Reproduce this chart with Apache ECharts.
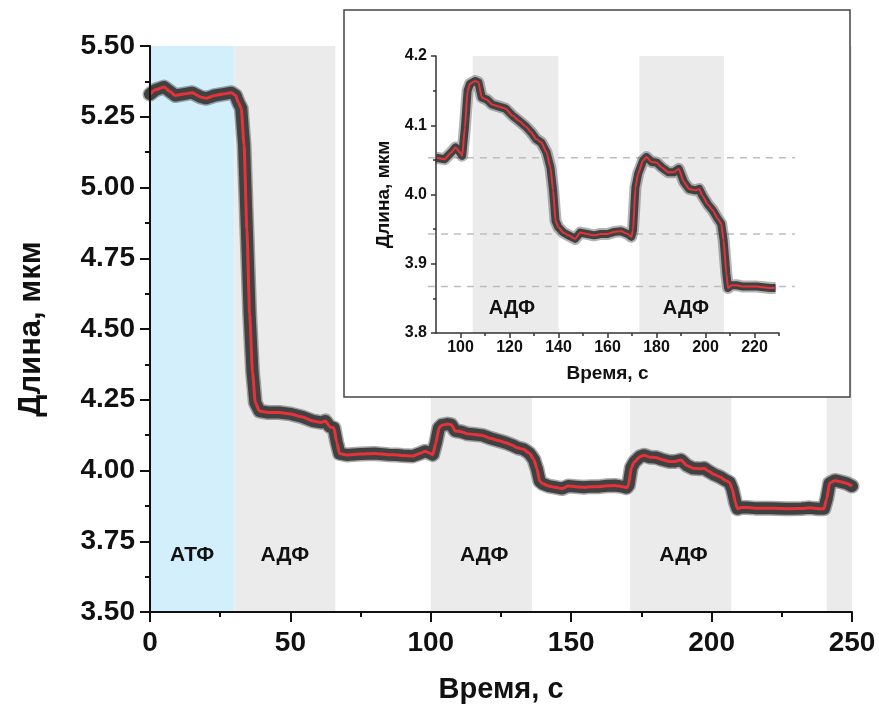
<!DOCTYPE html>
<html>
<head>
<meta charset="utf-8">
<script src="https://cdn.jsdelivr.net/npm/echarts@6/dist/echarts.min.js"></script>
<style>
  html, body { margin: 0; padding: 0; background: #fff; }
  #chart { width: 879px; height: 710px; }
</style>
</head>
<body>
<div id="chart"></div>
<script>
// Filament length over time, µm vs s: start of the record (ATP, then first ADP step)
const headTime = [0, 2, 5, 7, 9, 12, 15, 18, 20, 23, 26, 29, 30.5, 31.5, 32.5, 33.5, 34.5, 35.5, 36.5, 37.5,
  39, 42, 46, 50, 54, 58, 61, 62.5, 64, 65.5, 66.5, 67.5, 70, 75, 80, 85, 88];
const headLen = [5.33, 5.345, 5.355, 5.34, 5.325, 5.33, 5.335, 5.32, 5.315, 5.325, 5.33, 5.335, 5.325, 5.30, 5.28, 5.15, 4.85, 4.55, 4.35, 4.24,
  4.21, 4.205, 4.205, 4.20, 4.19, 4.175, 4.17, 4.175, 4.155, 4.15, 4.10, 4.06, 4.055, 4.058, 4.06, 4.056, 4.055];

// Middle of the record, 90–230 s (also shown enlarged in the inset)
const insetTime = [90, 93.5, 96.3, 98, 99.7, 100.7, 101.8, 102.9, 103.9, 106, 107.3, 108.7, 110.8, 112.9, 115.7,
  118.4, 121.2, 124, 126.7, 128.8, 130.9, 133, 135.1, 136.7, 137.8, 138.8, 139.9, 142, 144.1, 146.8,
  148.9, 151.7, 154.5, 157.2, 160, 162.8, 165.5, 168.3, 169.7, 170.4, 171.4, 172.5, 174.5, 175.9, 178,
  180.1, 182.2, 184.9, 187, 189.1, 191.2, 193.3, 196, 197.4, 198.8, 200.9, 203, 205, 206.4, 207.4,
  208.5, 209.2, 210.6, 212.6, 215.4, 218.2, 221, 223.7, 226.5, 228.6];
const insetLen = [4.053, 4.051, 4.061, 4.068, 4.061, 4.056, 4.097, 4.150, 4.160, 4.164, 4.162, 4.140, 4.137, 4.130, 4.127,
  4.124, 4.114, 4.106, 4.098, 4.090, 4.080, 4.075, 4.061, 4.039, 4.006, 3.962, 3.953, 3.945, 3.941, 3.936,
  3.945, 3.943, 3.941, 3.943, 3.943, 3.946, 3.947, 3.943, 3.939, 3.948, 4.010, 4.030, 4.049, 4.054, 4.047,
  4.046, 4.039, 4.032, 4.032, 4.037, 4.018, 4.008, 4.006, 4.008, 3.998, 3.986, 3.977, 3.965, 3.958, 3.934,
  3.886, 3.865, 3.869, 3.869, 3.867, 3.867, 3.867, 3.866, 3.865, 3.865];

// End of the record
const tailTime = [232, 235, 238, 240, 241, 242, 244, 246, 248, 250];
const tailLen = [3.866, 3.868, 3.865, 3.865, 3.90, 3.955, 3.965, 3.96, 3.955, 3.945];

// Solution periods (s)
const atpBands = [[0, 30]];
const adpBands = [[30, 66], [100, 136], [171, 207], [241, 250]];
const insetAdpBands = [[105, 140], [173, 207.5]];

// Period labels
const bandLabelTime = [15, 48, 119, 190];
const bandLabelText = ['АТФ', 'АДФ', 'АДФ', 'АДФ'];
const bandLabelLen = 3.70;
const insetLabelTime = [121, 192];
const insetLabelText = ['АДФ', 'АДФ'];
const insetLabelLen = 3.835;

// Plateau levels marked in the inset, and the time span of their dashed guides
const insetLevels = [4.053, 3.943, 3.867];
const levelSpan = [86.7, 236.5];

// Axis ticks for the inset time axis
const insetTimeTicks = [100, 120, 140, 160, 180, 200, 220];
const insetTimeMinor = [110, 130, 150, 170, 190, 210, 230];

const FONT = "'Liberation Sans', Arial, sans-serif";
const BLACK = '#111';
const RED = '#e8323a';
const CLOUD = '#414141';

const zip = (t, v) => t.map((x, i) => [x, v[i]]);
const mainData = zip(headTime.concat(insetTime, tailTime), headLen.concat(insetLen, tailLen));
const insetData = zip(insetTime, insetLen);

// Shaded periods drawn as rectangles spanning the whole value range
function bandSeries(bands, color, xIdx, yIdx, yMin, yMax, z) {
  return {
    type: 'custom', xAxisIndex: xIdx, yAxisIndex: yIdx, z: z, silent: true,
    data: bands,
    renderItem: (params, api) => {
      const p0 = api.coord([api.value(0), yMax]);
      const p1 = api.coord([api.value(1), yMin]);
      return { type: 'rect', shape: { x: p0[0], y: p0[1], width: p1[0] - p0[0], height: p1[1] - p0[1] },
        style: { fill: color } };
    }
  };
}

// Text labels placed at (time, length) positions
function labelSeries(times, texts, level, xIdx, yIdx, size, z) {
  return {
    type: 'custom', xAxisIndex: xIdx, yAxisIndex: yIdx, z: z, silent: true,
    data: times.map(t => [t, level]),
    renderItem: (params, api) => {
      const p = api.coord([api.value(0), api.value(1)]);
      return { type: 'text', x: p[0], y: p[1],
        style: { text: texts[params.dataIndex], fill: BLACK, align: 'center', verticalAlign: 'middle',
          font: 'bold ' + size + 'px ' + FONT } };
    }
  };
}

// Dashed horizontal guides at the plateau levels, running past the axis ends
function levelSeries(levels, span, xIdx, yIdx, z) {
  return {
    type: 'custom', xAxisIndex: xIdx, yAxisIndex: yIdx, z: z, silent: true, clip: false,
    data: levels.map(v => [v]),
    renderItem: (params, api) => {
      const a = api.coord([span[0], api.value(0)]);
      const b = api.coord([span[1], api.value(0)]);
      return { type: 'line', shape: { x1: a[0], y1: a[1], x2: b[0], y2: b[1] },
        style: { stroke: '#bdbdbd', lineWidth: 1.5, lineDash: [7, 6] } };
    }
  };
}

const chart = echarts.init(document.getElementById('chart'), null, { renderer: 'canvas' });

const option = {
  animation: false,
  backgroundColor: '#fff',
  textStyle: { fontFamily: FONT },
  grid: [
    { left: 150, right: 27, top: 46, bottom: 98 },
    { left: 436, right: 100, top: 56, height: 277 }
  ],
  graphic: [{
    type: 'rect', z: 10, silent: true,
    shape: { x: 344, y: 10, width: 506, height: 387 },
    style: { fill: '#fff', stroke: '#444', lineWidth: 1.5 }
  }],
  xAxis: [
    {
      gridIndex: 0, type: 'value', min: 0, max: 250, interval: 50, z: 6,
      axisLine: { lineStyle: { color: BLACK, width: 2 } },
      axisTick: { length: 10, lineStyle: { color: BLACK, width: 2 } },
      minorTick: { show: true, splitNumber: 2, length: 5, lineStyle: { color: BLACK, width: 2 } },
      splitLine: { show: false },
      axisLabel: { fontSize: 28, fontWeight: 'bold', color: BLACK, margin: 17, fontFamily: FONT },
      name: 'Время, с', nameLocation: 'middle', nameGap: 63,
      nameTextStyle: { fontSize: 29, fontWeight: 'bold', color: BLACK, fontFamily: FONT }
    },
    {
      gridIndex: 1, type: 'value', min: 90, max: 230, z: 16, position: 'bottom',
      axisLine: { onZero: false, lineStyle: { color: '#333', width: 1.5 } },
      axisTick: { customValues: insetTimeTicks, length: 5, lineStyle: { color: '#333', width: 1.5 } },
      splitLine: { show: false },
      axisLabel: { customValues: insetTimeTicks, fontSize: 16, fontWeight: 'bold', color: BLACK, margin: 7, fontFamily: FONT },
      name: 'Время, с', nameLocation: 'middle', nameGap: 31,
      nameTextStyle: { fontSize: 19, fontWeight: 'bold', color: BLACK, fontFamily: FONT }
    },
    {
      gridIndex: 1, type: 'value', min: 90, max: 230, z: 16, position: 'bottom',
      axisLine: { show: false, onZero: false },
      axisTick: { customValues: insetTimeMinor, length: 3, lineStyle: { color: '#333', width: 1.5 } },
      axisLabel: { show: false },
      splitLine: { show: false }
    }
  ],
  yAxis: [
    {
      gridIndex: 0, type: 'value', min: 3.5, max: 5.5, interval: 0.25, z: 6,
      axisLine: { show: true, lineStyle: { color: BLACK, width: 2 } },
      axisTick: { show: true, length: 10, lineStyle: { color: BLACK, width: 2 } },
      minorTick: { show: true, splitNumber: 2, length: 5, lineStyle: { color: BLACK, width: 2 } },
      splitLine: { show: false },
      axisLabel: { fontSize: 28, fontWeight: 'bold', color: BLACK, margin: 15, fontFamily: FONT,
        formatter: v => v.toFixed(2) },
      name: 'Длина, мкм', nameLocation: 'middle', nameGap: 103,
      nameTextStyle: { fontSize: 31, fontWeight: 'bold', color: BLACK, fontFamily: FONT }
    },
    {
      gridIndex: 1, type: 'value', min: 3.8, max: 4.2, interval: 0.1, z: 16,
      axisLine: { show: true, lineStyle: { color: '#333', width: 1.5 } },
      axisTick: { show: true, length: 5, lineStyle: { color: '#333', width: 1.5 } },
      minorTick: { show: true, splitNumber: 2, length: 3, lineStyle: { color: '#333', width: 1.5 } },
      splitLine: { show: false },
      axisLabel: { fontSize: 16, fontWeight: 'bold', color: BLACK, margin: 9, fontFamily: FONT,
        formatter: v => v.toFixed(1) },
      name: 'Длина, мкм', nameLocation: 'middle', nameGap: 43,
      nameTextStyle: { fontSize: 19, fontWeight: 'bold', color: BLACK, fontFamily: FONT }
    }
  ],
  series: [
    // main panel
    bandSeries(atpBands, '#d2effb', 0, 0, 3.5, 5.5, 1),
    bandSeries(adpBands, '#ebebeb', 0, 0, 3.5, 5.5, 1),
    { type: 'line', xAxisIndex: 0, yAxisIndex: 0, z: 2, silent: true, showSymbol: false,
      data: mainData, lineStyle: { color: CLOUD, width: 15, opacity: 0.45, cap: 'round', join: 'round' } },
    { type: 'line', xAxisIndex: 0, yAxisIndex: 0, z: 2, silent: true, showSymbol: false,
      data: mainData, lineStyle: { color: CLOUD, width: 12, cap: 'round', join: 'round' } },
    { type: 'line', xAxisIndex: 0, yAxisIndex: 0, z: 3, silent: true, showSymbol: false,
      smooth: 0.2, smoothMonotone: 'x',
      data: mainData, lineStyle: { color: RED, width: 3 } },
    labelSeries(bandLabelTime, bandLabelText, bandLabelLen, 0, 0, 21, 4),

    // inset panel
    bandSeries(insetAdpBands, '#ebebeb', 1, 1, 3.8, 4.2, 11),
    levelSeries(insetLevels, levelSpan, 1, 1, 12),
    { type: 'line', xAxisIndex: 1, yAxisIndex: 1, z: 13, silent: true, showSymbol: false,
      data: insetData, lineStyle: { color: CLOUD, width: 12, opacity: 0.4, join: 'round' } },
    { type: 'line', xAxisIndex: 1, yAxisIndex: 1, z: 13, silent: true, showSymbol: false,
      data: insetData, lineStyle: { color: CLOUD, width: 8, join: 'round' } },
    { type: 'line', xAxisIndex: 1, yAxisIndex: 1, z: 14, silent: true, showSymbol: false,
      smooth: 0.2, smoothMonotone: 'x',
      data: insetData, lineStyle: { color: RED, width: 2 } },
    labelSeries(insetLabelTime, insetLabelText, insetLabelLen, 1, 1, 20, 15)
  ]
};

chart.setOption(option);
</script>
</body>
</html>
